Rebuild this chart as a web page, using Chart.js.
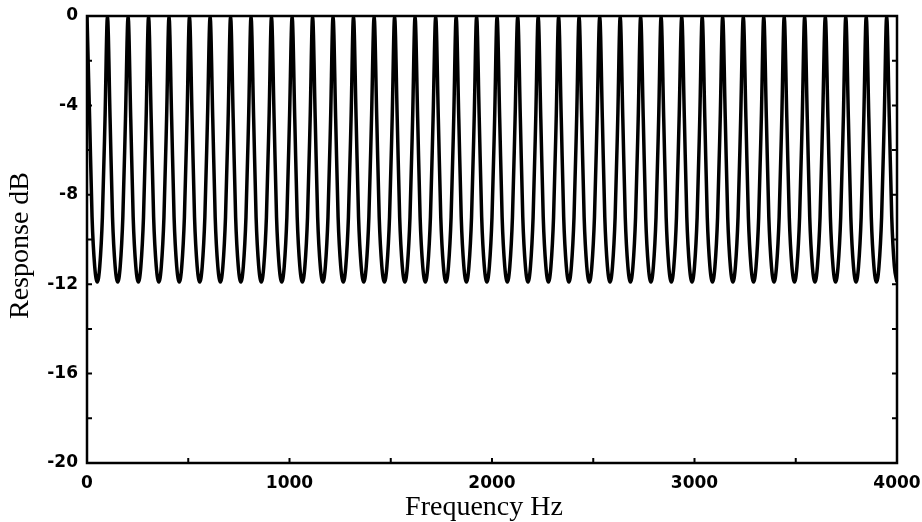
<!DOCTYPE html>
<html><head><meta charset="utf-8">
<script src="https://cdn.jsdelivr.net/npm/chart.js@4/dist/chart.umd.min.js"></script>
<style>html,body{margin:0;padding:0;background:#fff;}canvas{display:block;}</style>
</head><body>
<canvas id="c" width="922" height="522"></canvas>
<script>
// Frequency samples (Hz): 8 samples per comb period (~101.3 Hz)
const frequencyHz = [
0,13,25,38,51,63,76,89,
101,114,126,139,152,164,177,190,
203,216,228,241,254,266,279,292,
304,317,329,342,355,367,380,393,
405,418,430,443,456,468,481,494,
506,519,531,544,557,569,582,595,
608,621,633,646,659,671,684,697,
709,722,734,747,760,772,785,798,
810,823,835,848,861,873,886,899,
911,924,936,949,962,974,987,1000,
1013,1026,1038,1051,1064,1076,1089,1102,
1114,1127,1139,1152,1165,1177,1190,1203,
1215,1228,1240,1253,1266,1278,1291,1304,
1316,1329,1341,1354,1367,1379,1392,1405,
1418,1431,1443,1456,1469,1481,1494,1507,
1519,1532,1544,1557,1570,1582,1595,1608,
1620,1633,1645,1658,1671,1683,1696,1709,
1722,1735,1747,1760,1773,1785,1798,1811,
1823,1836,1848,1861,1874,1886,1899,1912,
1924,1937,1949,1962,1975,1987,2000,2013,
2025,2038,2050,2063,2076,2088,2101,2114,
2127,2140,2152,2165,2178,2190,2203,2216,
2228,2241,2253,2266,2279,2291,2304,2317,
2329,2342,2354,2367,2380,2392,2405,2418,
2430,2443,2455,2468,2481,2493,2506,2519,
2532,2545,2557,2570,2583,2595,2608,2621,
2633,2646,2658,2671,2684,2696,2709,2722,
2734,2747,2759,2772,2785,2797,2810,2823,
2835,2848,2860,2873,2886,2898,2911,2924,
2937,2950,2962,2975,2988,3000,3013,3026,
3038,3051,3063,3076,3089,3101,3114,3127,
3139,3152,3164,3177,3190,3202,3215,3228,
3241,3254,3266,3279,3292,3304,3317,3330,
3342,3355,3367,3380,3393,3405,3418,3431,
3443,3456,3468,3481,3494,3506,3519,3532,
3544,3557,3569,3582,3595,3607,3620,3633,
3646,3659,3671,3684,3697,3709,3722,3735,
3747,3760,3772,3785,3798,3810,3823,3836,
3848,3861,3873,3886,3899,3911,3924,3937,
3949,3962,3974,3987,4000
];
// Response (dB) read at the samples above
const responseDb = [
0,-4.6,-9.0,-11.2,-11.9,-11.2,-9.0,-4.6,
0,-4.6,-9.0,-11.2,-11.9,-11.2,-9.0,-4.6,
0,-4.6,-9.0,-11.2,-11.9,-11.2,-9.0,-4.6,
0,-4.6,-9.0,-11.2,-11.9,-11.2,-9.0,-4.6,
0,-4.6,-9.0,-11.2,-11.9,-11.2,-9.0,-4.6,
0,-4.6,-9.0,-11.2,-11.9,-11.2,-9.0,-4.6,
0,-4.6,-9.0,-11.2,-11.9,-11.2,-9.0,-4.6,
0,-4.6,-9.0,-11.2,-11.9,-11.2,-9.0,-4.6,
0,-4.6,-9.0,-11.2,-11.9,-11.2,-9.0,-4.6,
0,-4.6,-9.0,-11.2,-11.9,-11.2,-9.0,-4.6,
0,-4.6,-9.0,-11.2,-11.9,-11.2,-9.0,-4.6,
0,-4.6,-9.0,-11.2,-11.9,-11.2,-9.0,-4.6,
0,-4.6,-9.0,-11.2,-11.9,-11.2,-9.0,-4.6,
0,-4.6,-9.0,-11.2,-11.9,-11.2,-9.0,-4.6,
0,-4.6,-9.0,-11.2,-11.9,-11.2,-9.0,-4.6,
0,-4.6,-9.0,-11.2,-11.9,-11.2,-9.0,-4.6,
0,-4.6,-9.0,-11.2,-11.9,-11.2,-9.0,-4.6,
0,-4.6,-9.0,-11.2,-11.9,-11.2,-9.0,-4.6,
0,-4.6,-9.0,-11.2,-11.9,-11.2,-9.0,-4.6,
0,-4.6,-9.0,-11.2,-11.9,-11.2,-9.0,-4.6,
0,-4.6,-9.0,-11.2,-11.9,-11.2,-9.0,-4.6,
0,-4.6,-9.0,-11.2,-11.9,-11.2,-9.0,-4.6,
0,-4.6,-9.0,-11.2,-11.9,-11.2,-9.0,-4.6,
0,-4.6,-9.0,-11.2,-11.9,-11.2,-9.0,-4.6,
0,-4.6,-9.0,-11.2,-11.9,-11.2,-9.0,-4.6,
0,-4.6,-9.0,-11.2,-11.9,-11.2,-9.0,-4.6,
0,-4.6,-9.0,-11.2,-11.9,-11.2,-9.0,-4.6,
0,-4.6,-9.0,-11.2,-11.9,-11.2,-9.0,-4.6,
0,-4.6,-9.0,-11.2,-11.9,-11.2,-9.0,-4.6,
0,-4.6,-9.0,-11.2,-11.9,-11.2,-9.0,-4.6,
0,-4.6,-9.0,-11.2,-11.9,-11.2,-9.0,-4.6,
0,-4.6,-9.0,-11.2,-11.9,-11.2,-9.0,-4.6,
0,-4.6,-9.0,-11.2,-11.9,-11.2,-9.0,-4.6,
0,-4.6,-9.0,-11.2,-11.9,-11.2,-9.0,-4.6,
0,-4.6,-9.0,-11.2,-11.9,-11.2,-9.0,-4.6,
0,-4.6,-9.0,-11.2,-11.9,-11.2,-9.0,-4.6,
0,-4.6,-9.0,-11.2,-11.9,-11.2,-9.0,-4.6,
0,-4.6,-9.0,-11.2,-11.9,-11.2,-9.0,-4.6,
0,-4.6,-9.0,-11.2,-11.9,-11.2,-9.0,-4.6,
0,-4.6,-9.0,-11.2,-11.9
];
const xTickValues = [0, 1000, 2000, 3000, 4000];
const yTickValues = [-20, -16, -12, -8, -4, 0];
const xMinorTickValues = [0, 500, 1000, 1500, 2000, 2500, 3000, 3500, 4000];
const yMinorTickValues = [-20, -18, -16, -14, -12, -10, -8, -6, -4, -2, 0];
const xTitle = 'Frequency Hz';
const yTitle = 'Response dB';

const points = frequencyHz.map((f, i) => ({ x: f, y: responseDb[i] }));

const framePlugin = {
  id: 'frame',
  afterDatasetsDraw(chart) {
    const { ctx, chartArea: a, scales: { x, y } } = chart;
    ctx.save();
    ctx.strokeStyle = '#000';
    ctx.lineWidth = 2.5;
    ctx.strokeRect(a.left, a.top, a.right - a.left, a.bottom - a.top);
    ctx.lineWidth = 2;
    ctx.beginPath();
    yMinorTickValues.forEach(v => {
      const py = y.getPixelForValue(v);
      ctx.moveTo(a.left, py); ctx.lineTo(a.left + 5, py);
      ctx.moveTo(a.right, py); ctx.lineTo(a.right - 5, py);
    });
    xMinorTickValues.forEach(v => {
      const px = x.getPixelForValue(v);
      ctx.moveTo(px, a.bottom); ctx.lineTo(px, a.bottom - 5);
    });
    ctx.stroke();
    ctx.fillStyle = '#000';
    ctx.font = '28px "Liberation Serif"';
    ctx.textAlign = 'center';
    ctx.textBaseline = 'alphabetic';
    ctx.fillText(xTitle, (a.left + a.right) / 2 - 8, 515);
    ctx.translate(28, (a.top + a.bottom) / 2 + 6);
    ctx.rotate(-Math.PI / 2);
    ctx.fillText(yTitle, 0, 0);
    ctx.restore();
  }
};

const tickFont = { family: 'DejaVu Sans', weight: 'bold', size: 17 };

new Chart(document.getElementById('c'), {
  type: 'line',
  data: {
    datasets: [{
      data: points,
      borderColor: '#000',
      borderWidth: 3.5,
      pointRadius: 0,
      fill: false,
      cubicInterpolationMode: 'monotone'
    }]
  },
  options: {
    responsive: false,
    animation: false,
    layout: { padding: { top: 16, right: 25, left: 0, bottom: 0 } },
    plugins: { legend: { display: false }, tooltip: { enabled: false } },
    scales: {
      x: {
        type: 'linear', min: 0, max: 4000,
        afterFit: s => { s.height = 59; s.paddingLeft = 0; s.paddingRight = 0; },
        afterBuildTicks: s => { s.ticks = xTickValues.map(v => ({ value: v })); },
        grid: { display: false, drawTicks: false },
        border: { display: false },
        ticks: { color: '#000', font: tickFont, padding: 10, maxRotation: 0, autoSkip: false,
                 callback: v => String(v) }
      },
      y: {
        type: 'linear', min: -20, max: 0,
        afterFit: s => { s.width = 87; s.paddingTop = 0; s.paddingBottom = 0; },
        afterBuildTicks: s => { s.ticks = yTickValues.map(v => ({ value: v })); },
        grid: { display: false, drawTicks: false },
        border: { display: false },
        ticks: { color: '#000', font: tickFont, padding: 9, autoSkip: false,
                 callback: v => String(v) }
      }
    }
  },
  plugins: [framePlugin]
});
</script>
</body></html>
